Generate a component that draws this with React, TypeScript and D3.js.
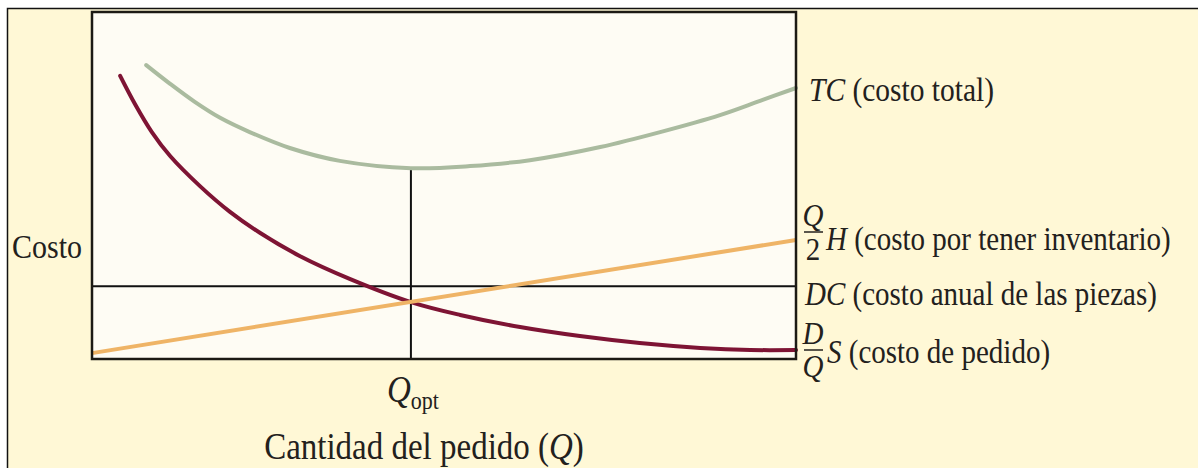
import React from 'react';
import * as d3 from 'd3';

const W = 1198;
const H = 468;

// Ordering cost (D/Q)S
const orderingQ = [4.0, 6.1, 8.5, 11.1, 15.3, 19.6, 23.9, 29.5, 36.6, 45.3, 52.3, 60.8, 69.3, 77.8, 86.4, 93.5, 100];
const orderingCost = [81.6, 73.5, 65.4, 58.5, 49.9, 42.4, 36.3, 29.7, 23.1, 16.4, 12.7, 9.2, 6.6, 4.6, 3.2, 2.6, 2.6];
// Total cost TC
const totalQ = [7.7, 11.1, 14.6, 18.2, 22.4, 28.1, 35.2, 45.3, 53.7, 62.2, 72.2, 80.7, 89.2, 94.9, 100];
const totalCost = [84.7, 79.3, 74.1, 69.5, 65.4, 60.8, 57.1, 55.0, 55.6, 57.3, 61.1, 65.4, 70.3, 74.4, 78.1];
// Holding cost (Q/2)H
const holdingQ = [0, 100];
const holdingCost = [1.7, 34.3];
// Annual parts cost DC
const partsCost = 21.0;
// Optimal order quantity
const qOpt = 45.3;

const FONT = "'Liberation Serif','Times New Roman',serif";
const INK = '#23211d';

type TProps = { x: number; y: number; size?: number; sx?: number; sy?: number; anchor?: string; children: React.ReactNode };
function T({ x, y, size = 29, sx = 1, sy = 1.15, anchor = 'start', children }: TProps) {
  return (
    <text
      transform={`translate(${x},${y}) scale(${sx},${sy})`}
      fontSize={size}
      fontFamily={FONT}
      textAnchor={anchor as any}
      fill={INK}
    >
      {children}
    </text>
  );
}

export default function App() {
  const plot = { left: 92, top: 12, right: 796, bottom: 359 };
  const x = d3.scaleLinear().domain([0, 100]).range([plot.left, plot.right]);
  const y = d3.scaleLinear().domain([0, 100]).range([plot.bottom, plot.top]);

  const line = d3
    .line<[number, number]>()
    .x((d) => x(d[0]))
    .y((d) => y(d[1]))
    .curve(d3.curveCatmullRom.alpha(0.5));
  const straight = d3
    .line<[number, number]>()
    .x((d) => x(d[0]))
    .y((d) => y(d[1]));

  const ordering = orderingQ.map((q, i) => [q, orderingCost[i]] as [number, number]);
  const total = totalQ.map((q, i) => [q, totalCost[i]] as [number, number]);
  const holding = holdingQ.map((q, i) => [q, holdingCost[i]] as [number, number]);

  const tcMin = d3.min(totalCost) as number;

  return (
    <svg width={W} height={H} style={{ position: 'absolute', left: 0, top: 0, background: '#fff' }}>
      <rect x={7.5} y={8.5} width={1200} height={470} fill="#FFF8D6" stroke="#111" strokeWidth={1.5} />
      <rect
        x={plot.left}
        y={plot.top}
        width={plot.right - plot.left}
        height={plot.bottom - plot.top}
        fill="#FEFCF4"
      />
      {/* DC line */}
      <line x1={x(0)} x2={x(100)} y1={y(partsCost)} y2={y(partsCost)} stroke="#111" strokeWidth={2} />
      {/* Qopt vertical */}
      <line x1={x(qOpt)} x2={x(qOpt)} y1={y(tcMin)} y2={y(0)} stroke="#111" strokeWidth={2} />
      <path d={line(ordering) || ''} fill="none" stroke="#7E1434" strokeWidth={4} strokeLinecap="round" />
      <path d={straight(holding) || ''} fill="none" stroke="#EFB466" strokeWidth={4} />
      <path d={line(total) || ''} fill="none" stroke="#AABB9F" strokeWidth={4} strokeLinecap="round" />
      <rect
        x={plot.left}
        y={plot.top}
        width={plot.right - plot.left}
        height={plot.bottom - plot.top}
        fill="none"
        stroke="#1c1a14"
        strokeWidth={2.5}
      />

      {/* Left label */}
      <T x={12} y={258} size={30}>Costo</T>

      {/* Right labels */}
      <T x={809} y={101} size={29.5}>
        <tspan fontStyle="italic">TC</tspan> (costo total)
      </T>

      <T x={813} y={226} size={29} sy={1.1} anchor="middle">
        <tspan fontStyle="italic">Q</tspan>
      </T>
      <line x1={804} x2={823} y1={232} y2={232} stroke={INK} strokeWidth={1.5} />
      <T x={813} y={260} size={29} sy={1.1} anchor="middle">2</T>
      <T x={826} y={250} size={29}>
        <tspan fontStyle="italic">H</tspan> (costo por tener inventario)
      </T>

      <T x={805} y={305} size={29}>
        <tspan fontStyle="italic">DC</tspan> (costo anual de las piezas)
      </T>

      <T x={813} y={344} size={29} sy={1.1} anchor="middle">
        <tspan fontStyle="italic">D</tspan>
      </T>
      <line x1={804} x2={823} y1={350} y2={350} stroke={INK} strokeWidth={1.5} />
      <T x={813} y={377} size={29} sy={1.1} anchor="middle">
        <tspan fontStyle="italic">Q</tspan>
      </T>
      <T x={827} y={363} size={29}>
        <tspan fontStyle="italic">S</tspan> (costo de pedido)
      </T>

      {/* Bottom labels */}
      <T x={x(qOpt) + 2} y={402} size={33} anchor="middle">
        <tspan fontStyle="italic">Q</tspan>
        <tspan fontSize={22} dy={6}>opt</tspan>
      </T>
      <T x={424} y={459} size={33} anchor="middle">
        Cantidad del pedido (<tspan fontStyle="italic">Q</tspan>)
      </T>
    </svg>
  );
}
